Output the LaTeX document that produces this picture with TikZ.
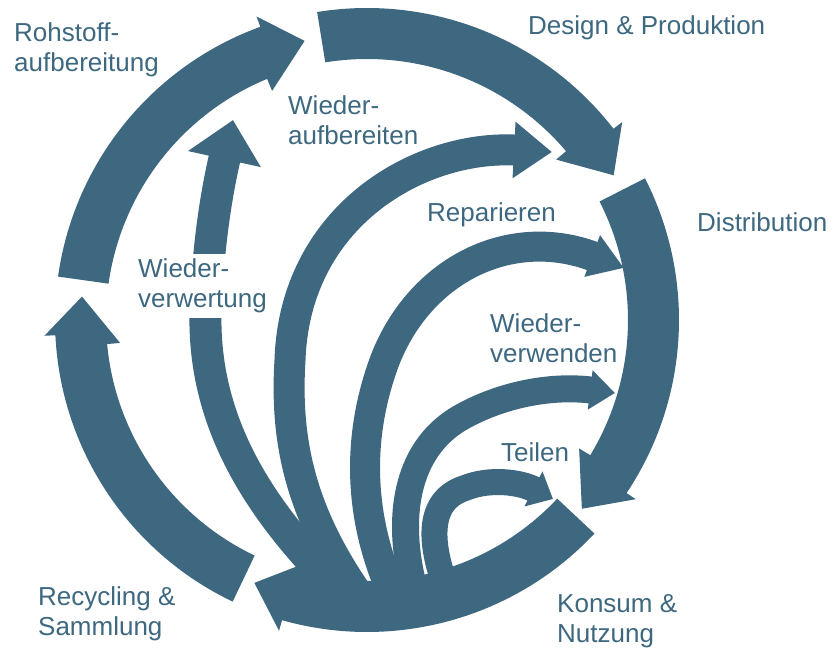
\documentclass[tikz,border=0pt]{standalone}
\usepackage{fontspec}
\setmainfont{Liberation Sans}
\usetikzlibrary{arrows.meta}
\definecolor{flowc}{HTML}{3D6880}
\begin{document}
\begin{tikzpicture}[x=1pt,y=1pt,font=\fontsize{26}{30}\selectfont,
    lbl/.style={inner sep=0pt,anchor=base west,align=left,text=flowc},
    flow/.style={draw=flowc,line cap=butt}]
\useasboundingbox (0,0) rectangle (833,649);
\coordinate (C) at (367,329);
% outer cycle: tail / head base / tip angles
\begin{scope}[shift={(C)}]
\foreach \t/\b/\c [evaluate=\b as \bi using \b+2.5] in {172/110/102.6,99.2/37.8/30.4,27/-33.7/-41.3,-43.2/-105.8/-113.2,244.5/182.8/175.3}
    \fill[flowc] (\t:312) arc[start angle=\t,end angle=\b,radius=312] -- (\b:323) -- (\c:286)
        -- (\bi:248) -- (\bi:261) arc[start angle=\bi,end angle=\t,radius=261] -- cycle;
\end{scope}
% inner loops
\draw[flow,line width=32pt,-{Triangle[length=40pt,width=72pt]}]
    (335,64)..controls (240,159) and (200,249)..(206,349)
    ..controls (210,429) and (222,479)..(233,529);
\draw[flow,line width=31pt,-{Triangle[length=38pt,width=54pt]}]
    (356,57)..controls (300,139) and (285,209)..(290,289)
    ..controls (295,434) and (420,504)..(552,497);
\draw[flow,line width=30pt,-{Triangle[length=34pt,width=42pt]}]
    (392,57)..controls (360,129) and (355,209)..(385,289)
    ..controls (420,379) and (510,424)..(624,381);
\draw[flow,line width=27pt,-{Triangle[length=25pt,width=38pt]}]
    (415,57)..controls (395,129) and (405,199)..(460,231)
    ..controls (500,254) and (550,264)..(615,256);
\draw[flow,line width=26pt,-{Triangle[length=22pt,width=38pt]}]
    (447,59)..controls (428,109) and (428,149)..(465,161)
    ..controls (490,171) and (520,167)..(553,150);
% labels (base = last line)
\node[lbl] (rohstoff) at (14,577) {Rohstoff-\\aufbereitung};
\node[lbl] (design) at (528,614) {Design \& Produktion};
\node[lbl] (distri) at (697,417) {Distribution};
\node[lbl] (wauf) at (288,504) {Wieder-\\aufbereiten};
\node[lbl] (repar) at (427,427) {Reparieren};
\node[lbl,fill=white,inner sep=5pt] (wverw) at (133,341) {Wieder-\\verwertung};
\node[lbl] (wverwe) at (490,287) {Wieder-\\verwenden};
\node[lbl] (teilen) at (501,188) {Teilen};
\node[lbl] (recyc) at (38,14) {Recycling \&\\Sammlung};
\node[lbl] (konsum) at (557,7) {Konsum \&\\Nutzung};
\end{tikzpicture}
\end{document}
